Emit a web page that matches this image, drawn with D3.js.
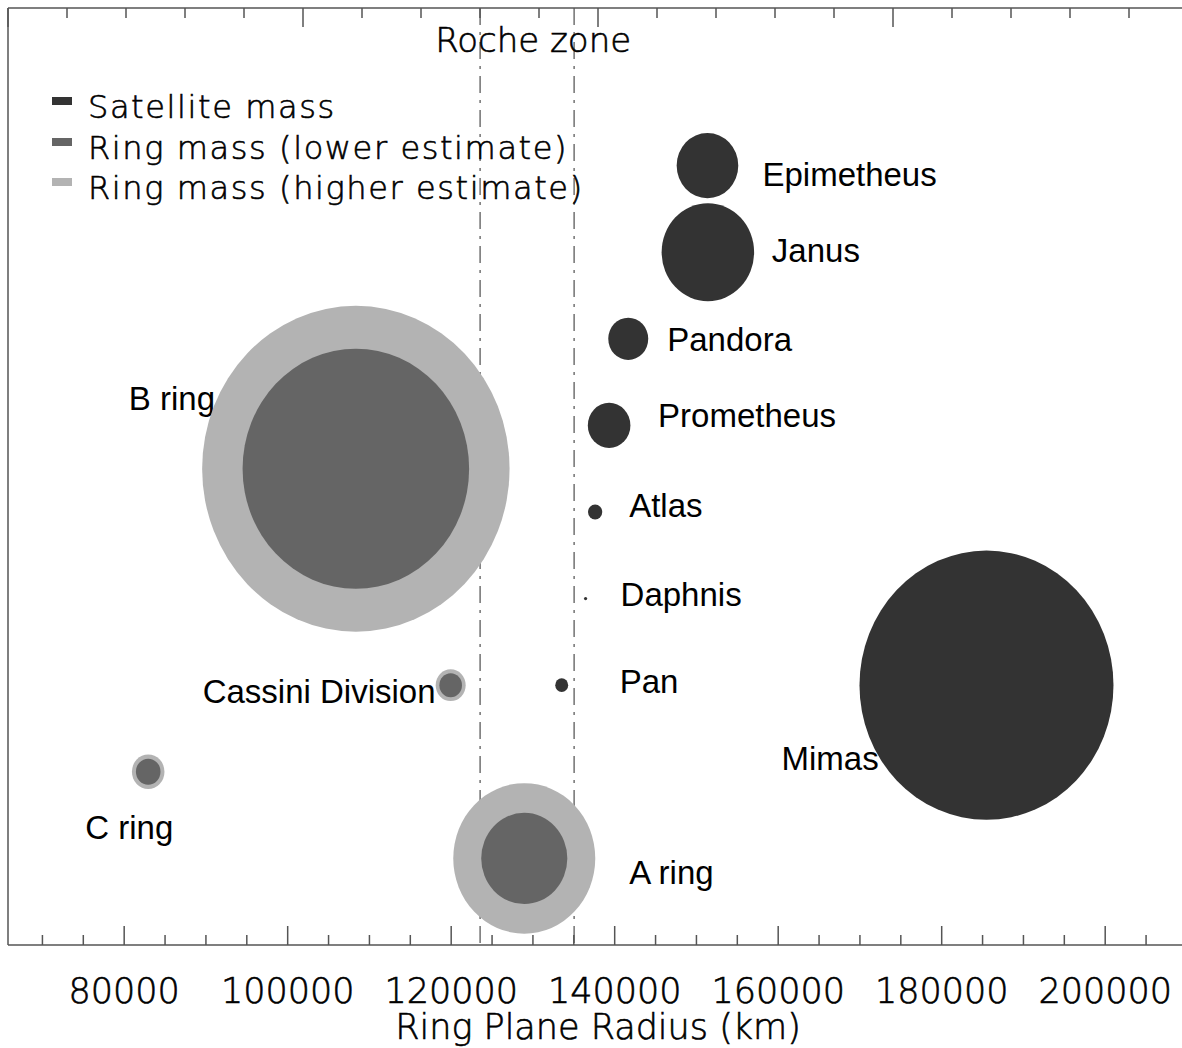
<!DOCTYPE html>
<html>
<head>
<meta charset="utf-8">
<script src="https://cdn.jsdelivr.net/npm/d3@7/dist/d3.min.js"></script>
<style>
  html, body { margin: 0; padding: 0; background: #fff; }
  svg { display: block; }
</style>
</head>
<body>
<script>
// ---------------- DATA ----------------
// Satellites: name, orbital radius (km), row level, mass (1e18 kg)
const satNames   = ["Epimetheus", "Janus", "Pandora", "Prometheus", "Atlas", "Daphnis", "Pan", "Mimas"];
const satRadius  = [151410, 151460, 141720, 139380, 137670, 136500, 133580, 185540];
const satLevel   = [9, 8, 7, 6, 5, 4, 3, 3];
const satMass    = [0.535, 1.81, 0.146, 0.177, 0.0066, 0.000077, 0.00495, 37.5];

// Rings: name, representative radius (km), row level, lower & higher mass estimates (1e18 kg)
const ringNames  = ["B ring", "Cassini Division", "C ring", "A ring"];
const ringRadius = [108400, 120000, 83000, 129000];
const ringLevel  = [5.5, 3, 2, 1];
const ringLow    = [26.6, 0.0264, 0.034, 1.46];
const ringHigh   = [66.5, 0.0618, 0.079, 6.55];

// Roche zone limits (km)
const rocheLimits = [123600, 135100];

// Axis ticks (km)
const majorTicks = [80000, 100000, 120000, 140000, 160000, 180000, 200000];
const minorTicks = d3.range(70000, 210001, 5000);

const legendLabels = ["Satellite mass", "Ring mass (lower estimate)", "Ring mass (higher estimate)"];
const legendColors = ["#333333", "#656565", "#b3b3b3"];

// ---------------- LAYOUT ----------------
const W = 1182, H = 1048;
const L = 8, R = 1188, T = 8, B = 945;
const xDomain = [65850, 210190];
const yDomain = [0, 10.82];

const x = d3.scaleLinear().domain(xDomain).range([L, R]);
const y = d3.scaleLinear().domain(yDomain).range([B, T]);
// circle size ~ cube root of mass
const rScale = d3.scalePow().exponent(1/3).domain([0, 37.5]).range([0, 127]);
const aspect = 1.06;

const svg = d3.select("body").append("svg").attr("width", W).attr("height", H);

const hershey = "'DejaVu Sans', sans-serif";
const hWeight = 200;
const hStroke = 0.6;
const arial = "'Liberation Sans', Arial, sans-serif";

function hText(sel, size) {
  return sel.attr("font-family", hershey).attr("font-weight", hWeight).attr("font-size", size)
    .attr("fill", "#000").attr("stroke", "#000").attr("stroke-width", hStroke);
}

// Roche zone lines
svg.append("g").selectAll("line").data(rocheLimits).join("line")
  .attr("x1", d => x(d)).attr("x2", d => x(d))
  .attr("y1", T).attr("y2", B)
  .attr("stroke", "#7a7a7a").attr("stroke-width", 1.6)
  .attr("stroke-dasharray", "17,7,3,7");

hText(svg.append("text").attr("x", x(d3.mean(rocheLimits)) + 6).attr("y", 52)
  .attr("text-anchor", "middle"), 34).text("Roche zone");

// Labels (drawn under the circles)
const satLabelOff = [[55, 20], [64, 10], [39, 12], [49, 2], [34, 5], [35, 7], [58, 8], [-205, 85]];
const ringLabelOff = [[-227, -59], [-248, 18], [-63, 67], [105, 26]];

const labG = svg.append("g").attr("font-family", arial).attr("font-size", 33).attr("fill", "#000");
satNames.forEach((n, i) => {
  labG.append("text").attr("x", x(satRadius[i]) + satLabelOff[i][0])
    .attr("y", y(satLevel[i]) + satLabelOff[i][1]).text(n);
});
ringNames.forEach((n, i) => {
  labG.append("text").attr("x", x(ringRadius[i]) + ringLabelOff[i][0])
    .attr("y", y(ringLevel[i]) + ringLabelOff[i][1]).text(n);
});

// Ring circles
const ringIdx = d3.range(ringNames.length);
svg.append("g").selectAll("ellipse").data(ringIdx).join("ellipse")
  .attr("cx", i => x(ringRadius[i])).attr("cy", i => y(ringLevel[i]))
  .attr("rx", i => rScale(ringHigh[i])).attr("ry", i => rScale(ringHigh[i]) * aspect)
  .attr("fill", legendColors[2]);
svg.append("g").selectAll("ellipse").data(ringIdx).join("ellipse")
  .attr("cx", i => x(ringRadius[i])).attr("cy", i => y(ringLevel[i]))
  .attr("rx", i => rScale(ringLow[i])).attr("ry", i => rScale(ringLow[i]) * aspect)
  .attr("fill", legendColors[1]);

// Satellite circles
const satIdx = d3.range(satNames.length);
svg.append("g").selectAll("ellipse").data(satIdx).join("ellipse")
  .attr("cx", i => x(satRadius[i])).attr("cy", i => y(satLevel[i]))
  .attr("rx", i => Math.max(1, rScale(satMass[i]))).attr("ry", i => Math.max(1, rScale(satMass[i])) * aspect)
  .attr("fill", legendColors[0]);

// Axes
const axisColor = "#555";
const frame = svg.append("g").attr("stroke", axisColor).attr("stroke-width", 1.5).attr("fill", "none");
frame.append("line").attr("x1", L).attr("x2", R).attr("y1", B).attr("y2", B);
frame.append("line").attr("x1", L).attr("x2", R).attr("y1", T).attr("y2", T);
frame.append("line").attr("x1", L).attr("x2", L).attr("y1", T).attr("y2", B);
frame.append("line").attr("x1", R).attr("x2", R).attr("y1", T).attr("y2", B);

// bottom axis via d3.axis (ticks pointing inward)
const bottomMinor = d3.axisBottom(x).tickValues(minorTicks.filter(v => !majorTicks.includes(v))).tickSizeInner(-10).tickSizeOuter(0).tickFormat("");
const bottomMajor = d3.axisBottom(x).tickValues(majorTicks).tickSizeInner(-19).tickSizeOuter(0).tickPadding(33).tickFormat(d3.format("d"));
[bottomMinor, bottomMajor].forEach(ax => {
  const g = svg.append("g").attr("transform", `translate(0,${B})`).call(ax);
  g.select(".domain").remove();
  g.selectAll(".tick line").attr("stroke", axisColor).attr("stroke-width", 1.5);
  hText(g.selectAll(".tick text"), 35);
});

// top axis: unlabeled, 4 major divisions with 5 minor each
const span = xDomain[1] - xDomain[0];
const topTicks = d3.range(0, 21).map(k => xDomain[0] + k * span / 20);
const topG = svg.append("g").attr("stroke", axisColor).attr("stroke-width", 1.5);
topG.selectAll("line").data(topTicks.map((v, k) => ({v, k}))).join("line")
  .attr("x1", d => x(d.v)).attr("x2", d => x(d.v))
  .attr("y1", T).attr("y2", d => T + (d.k % 5 === 0 ? 19 : 10));

hText(svg.append("text").attr("x", (L + R) / 2).attr("y", 1039).attr("text-anchor", "middle"), 35)
  .text("Ring Plane Radius (km)");

// Legend
const legG = svg.append("g");
const legBase = [118, 159, 199];
legendLabels.forEach((t, i) => {
  legG.append("rect").attr("x", 52).attr("y", legBase[i] - 21).attr("width", 20).attr("height", 8)
    .attr("fill", legendColors[i]);
  hText(legG.append("text").attr("x", 88).attr("y", legBase[i]), 32)
    .attr("letter-spacing", 1.6).text(t);
});
</script>
</body>
</html>
